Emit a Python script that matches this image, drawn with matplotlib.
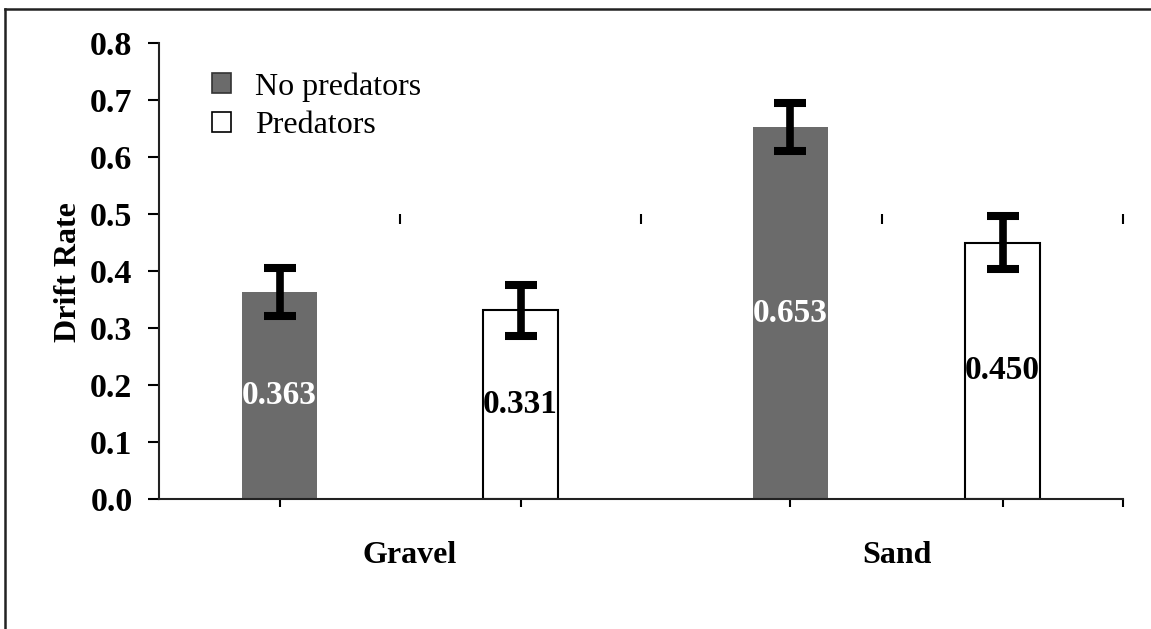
import matplotlib
matplotlib.use("Agg")
import matplotlib.pyplot as plt
from matplotlib.patches import Patch
from matplotlib.lines import Line2D

# ---- data ----
groups = ["Gravel", "Sand"]
series = ["No predators", "Predators"]
values = [0.363, 0.331, 0.653, 0.450]        # Gravel-NP, Gravel-P, Sand-NP, Sand-P
errors = [0.042, 0.044, 0.042, 0.047]
value_labels = ["0.363", "0.331", "0.653", "0.450"]
bar_series = [0, 1, 0, 1]
yticks = [0.0, 0.1, 0.2, 0.3, 0.4, 0.5, 0.6, 0.7, 0.8]

# ---- layout / style ----
bar_x = [0.0, 1.0, 2.12, 3.0]
group_x = [0.54, 2.56]
bar_w = 0.311
face = ["#6b6b6b", "white"]
edge = ["#6b6b6b", "black"]
ew = [0.0, 1.5]
txtcol = ["white", "black"]
FONT = "Liberation Serif"
FS = 23

W, H = 1151, 629
fig = plt.figure(figsize=(W / 100, H / 100), dpi=100)
ax = fig.add_axes([159 / W, 130 / H, (1123 - 159) / W, (585.7 - 130) / H])

for i, v in enumerate(values):
    s = bar_series[i]
    ax.bar(bar_x[i], v, width=bar_w, color=face[s], edgecolor=edge[s],
           linewidth=ew[s], zorder=2)
    ax.errorbar(bar_x[i], v, yerr=errors[i], fmt="none", ecolor="black",
                elinewidth=5.5, capsize=11.5, capthick=5.8, zorder=3)
    ax.text(bar_x[i], v / 2, value_labels[i], ha="center", va="center",
            color=txtcol[s], fontsize=FS + 1, fontweight="bold", family=FONT, zorder=4)

ax.set_xlim(-0.5, 3.5)
ax.set_ylim(0, 0.8)
ax.set_yticks(yticks)
ax.set_yticklabels([f"{t:.1f}" for t in yticks], fontsize=FS + 1.5, fontweight="bold",
                   family=FONT)
ax.set_xticks(bar_x + [3.5])
ax.set_xticklabels([])
ax.tick_params(axis="both", direction="out", length=6, width=1.5, color="black")
ax.tick_params(axis="y", length=8, pad=11)
for sp in ["top", "right"]:
    ax.spines[sp].set_visible(False)
for sp in ["left", "bottom"]:
    ax.spines[sp].set_linewidth(1.5)
    ax.spines[sp].set_color("#222222")

# secondary (category) axis crossing at 0.5 with boundary ticks
sec = ax.secondary_xaxis(0.5 / 0.8)
sec.spines["bottom"].set_visible(False)
sec.spines["top"].set_visible(False)
sec.set_xticks([0.5, 1.5, 2.5, 3.5])
sec.tick_params(axis="x", which="both", bottom=True, top=False, direction="out",
                length=7, width=1.5, labelbottom=False, labeltop=False)

for gx, g in zip(group_x, groups):
    ax.text(gx, -0.1, g, ha="center", va="center", fontsize=FS,
            fontweight="bold", family=FONT, transform=ax.transData)

fig.text(68 / W, 1 - 272 / H, "Drift Rate", rotation=90, ha="center",
         va="center", fontsize=FS, fontweight="bold", family=FONT)

handles = [Patch(facecolor=face[0], edgecolor="#333333", linewidth=1.2),
           Patch(facecolor=face[1], edgecolor="black", linewidth=1.2)]
leg = fig.legend(handles, series, loc="upper left",
                 bbox_to_anchor=(212 / W, 1 - 72 / H), bbox_transform=fig.transFigure,
                 frameon=False, borderpad=0, borderaxespad=0,
                 handlelength=0.6, handleheight=0.6, handletextpad=0.75,
                 labelspacing=0.3, prop={"family": FONT, "size": FS})

# outer border (top and left visible)
fig.add_artist(Line2D([5 / W, 1.0], [1 - 9 / H, 1 - 9 / H], color="#222222",
                      linewidth=1.8, transform=fig.transFigure))
fig.add_artist(Line2D([5 / W, 5 / W], [0.0, 1 - 9 / H], color="#222222",
                      linewidth=1.8, transform=fig.transFigure))

fig.savefig("out.png", dpi=100, facecolor="white")
